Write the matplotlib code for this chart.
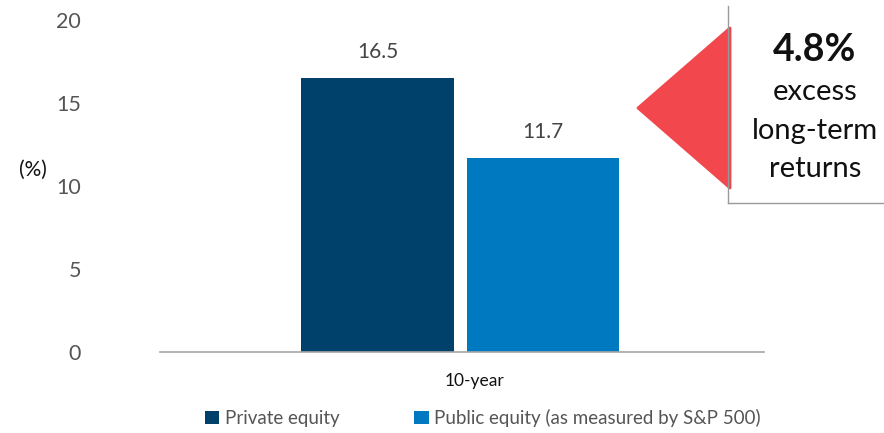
import matplotlib
matplotlib.use("Agg")
import matplotlib.pyplot as plt
from matplotlib.patches import Polygon, Patch
from matplotlib.lines import Line2D
from matplotlib.transforms import ScaledTranslation

plt.rcParams["font.family"] = ["Lato", "DejaVu Sans"]

# 10-year annualized returns
category = "10-year"
series_names = ["Private equity", "Public equity (as measured by S&P 500)"]
series_values = [16.5, 11.7]
series_colors = ["#00416B", "#0079C1"]
excess_return = 4.8
y_ticks = [0, 5, 10, 15, 20]

fig = plt.figure(figsize=(8.84, 4.33), dpi=100)
ax = fig.add_axes([160 / 884, 81 / 433, 604 / 884, 332 / 433])

bar_width = 0.252
offsets = [-0.14, 0.134]
for off, val, col in zip(offsets, series_values, series_colors):
    ax.bar(off, val, width=bar_width, color=col, zorder=2)
    ax.text(off, val + 0.95, f"{val:.1f}", ha="center", va="bottom",
            fontsize=15, color="#444444")

ax.set_xlim(-0.5, 0.5)
ax.set_ylim(0, 20)
ax.set_yticks(y_ticks)
ax.set_yticklabels([str(t) for t in y_ticks], fontsize=15.5, color="#555555")
ax.tick_params(axis="y", length=0, pad=57)
ax.set_xticks([0])
ax.set_xticklabels([category], fontsize=12.5, color="#111111")
ax.tick_params(axis="x", length=0, pad=15)
for lbl in ax.get_xticklabels():
    lbl.set_transform(lbl.get_transform() + ScaledTranslation(0.12, 0, fig.dpi_scale_trans))

for side in ["top", "right", "left"]:
    ax.spines[side].set_visible(False)
ax.spines["bottom"].set_color("#A6A6A6")
ax.spines["bottom"].set_linewidth(1.2)

fig.text(33 / 884, 1 - 170 / 433, "(%)", ha="center", va="center",
         fontsize=15, color="#111111")

# Callout: red arrow pointing at the gap, plus bracket lines
tri = Polygon([(638 / 884, 1 - 108 / 433), (730 / 884, 1 - 28 / 433),
               (730 / 884, 1 - 188 / 433)], closed=True,
              transform=fig.transFigure, facecolor="#F2474C", edgecolor="#F2474C",
              linewidth=2, joinstyle="round")
fig.patches.append(tri)
fig.lines.append(Line2D([728 / 884, 728 / 884], [1 - 6 / 433, 1 - 203 / 433],
                        transform=fig.transFigure, color="#999999", linewidth=1.0))
fig.lines.append(Line2D([728 / 884, 1.0], [1 - 203 / 433, 1 - 203 / 433],
                        transform=fig.transFigure, color="#999999", linewidth=1.0))

fig.text(815 / 884, 1 - 50 / 433, f"{excess_return}%", ha="center", va="center",
         fontsize=27, fontweight="bold", color="#111111")
for text, y in zip(["excess", "long-term", "returns"], [92, 131, 169]):
    fig.text(815 / 884, 1 - y / 433, text, ha="center", va="center",
             fontsize=21, color="#111111")

handles = [Patch(facecolor=c, edgecolor="none") for c in series_colors]
leg = fig.legend(handles, series_names, loc="center", bbox_to_anchor=(483 / 884, 1 - 418 / 433),
                 ncol=2, frameon=False, fontsize=13.5, handlelength=0.75, handleheight=0.75,
                 handletextpad=0.3, columnspacing=4.0, labelcolor="#555555")

fig.savefig("out.png", dpi=100)
